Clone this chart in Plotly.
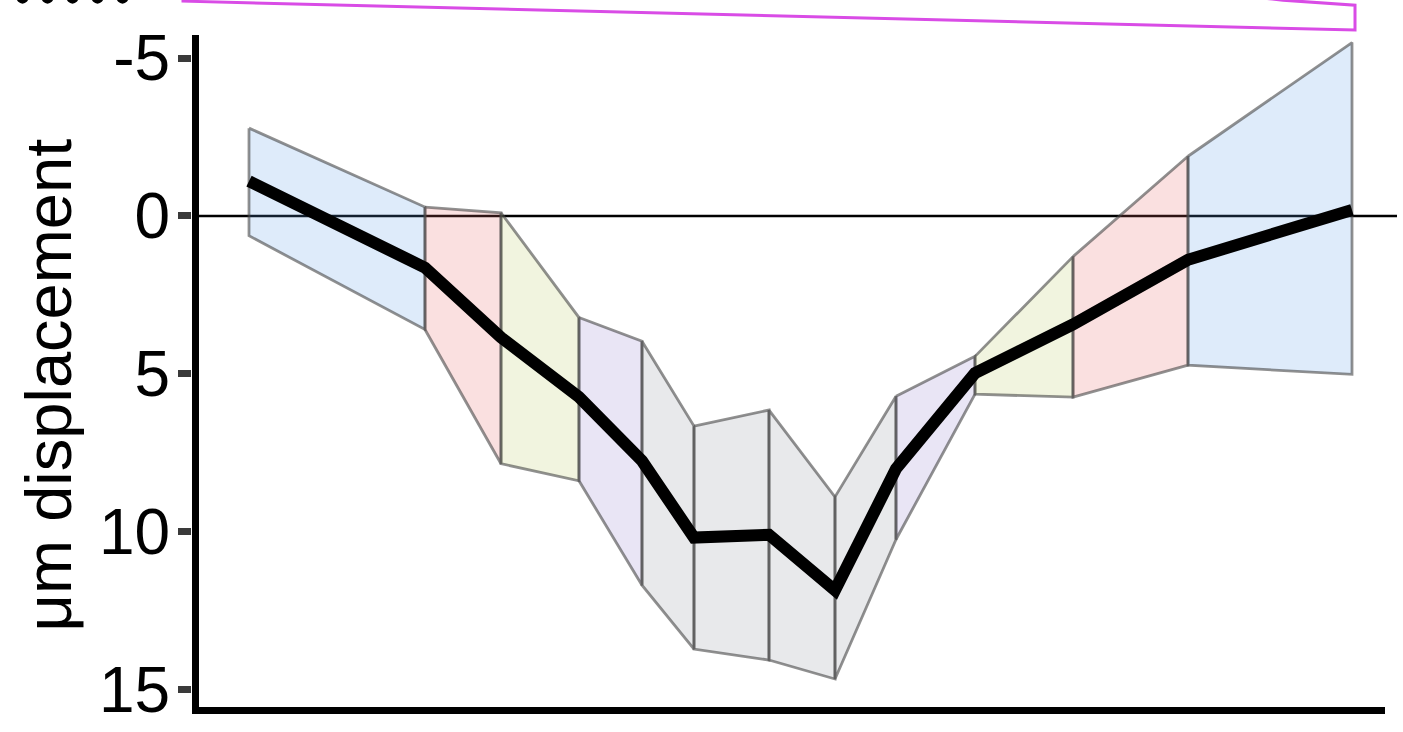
import plotly.graph_objects as go

# ---- data ----
positions = [0.0, 17.6, 25.2, 33.0, 39.3, 44.5, 52.0, 58.6, 64.7, 72.6, 82.4, 93.9, 110.3]
mean_disp = [-1.10, 1.64, 3.85, 5.74, 7.76, 10.19, 10.10, 11.86, 8.01, 4.98, 3.44, 1.39, -0.19]
upper_disp = [-2.78, -0.28, -0.10, 3.22, 3.97, 6.66, 6.15, 8.90, 5.71, 4.45, 1.29, -1.89, -5.49]
lower_disp = [0.63, 3.60, 7.85, 8.39, 11.70, 13.72, 14.07, 14.67, 10.25, 5.65, 5.74, 4.73, 5.02]
segment_colors = [
    "rgba(90,155,230,0.2)",   # blue
    "rgba(230,100,100,0.2)",  # pink
    "rgba(185,200,95,0.2)",   # yellow-green
    "rgba(145,125,205,0.2)",  # lavender
    "rgba(140,145,155,0.2)",  # gray
    "rgba(140,145,155,0.2)",
    "rgba(140,145,155,0.2)",
    "rgba(140,145,155,0.2)",
    "rgba(145,125,205,0.2)",  # lavender
    "rgba(185,200,95,0.2)",   # yellow-green
    "rgba(230,100,100,0.2)",  # pink
    "rgba(90,155,230,0.2)",   # blue
]
y_ticks = [-5, 0, 5, 10, 15]
y_title = "μm displacement"

W, H = 1403, 732
L, R, T, B = 192, 6, 35, 20
x_range = [-5.7, 114.8]
y_range = [15.62, -5.73]

fig = go.Figure()

# zero reference line
fig.add_trace(go.Scatter(x=x_range, y=[0, 0], mode="lines",
                         line=dict(color="black", width=2.5), hoverinfo="skip", showlegend=False))

# shaded segments
for i, col in enumerate(segment_colors):
    xs = [positions[i], positions[i + 1], positions[i + 1], positions[i], positions[i]]
    ys = [upper_disp[i], upper_disp[i + 1], lower_disp[i + 1], lower_disp[i], upper_disp[i]]
    fig.add_trace(go.Scatter(x=xs, y=ys, mode="lines", fill="toself", fillcolor=col,
                             line=dict(color="rgba(70,70,70,0.6)", width=2.8),
                             hoverinfo="skip", showlegend=False))

# mean line
fig.add_trace(go.Scatter(x=positions, y=mean_disp, mode="lines",
                         line=dict(color="black", width=12), showlegend=False))

pw = W - L - R
ph = H - T - B

def px(xp):
    return (xp - L) / pw

def py(yp):
    return (H - B - yp) / ph

shapes = []
# axis lines
shapes.append(dict(type="rect", xref="paper", yref="paper",
                   x0=px(192), x1=px(199), y0=py(35), y1=py(717),
                   fillcolor="black", line=dict(width=0)))
shapes.append(dict(type="rect", xref="paper", yref="paper",
                   x0=px(195), x1=px(1385), y0=py(710), y1=py(717),
                   fillcolor="black", line=dict(width=0)))
# magenta frame at top (partially cropped)
pts = [(183, -40), (183, 1), (1355, 30), (1355, 5), (1283, 0), (900, -40)]
path = "M " + " L ".join(f"{px(a):.5f},{py(b):.5f}" for a, b in pts)
shapes.append(dict(type="path", xref="paper", yref="paper", path=path,
                   line=dict(color="#d94ce6", width=3)))
# cropped dots at top-left
for cx in [22.5, 47.5, 72.5, 97.5, 122.5]:
    shapes.append(dict(type="circle", xref="paper", yref="paper",
                       x0=px(cx - 6), x1=px(cx + 6), y0=py(-9), y1=py(3.5),
                       fillcolor="black", line=dict(width=0)))

fig.update_layout(
    width=W, height=H,
    margin=dict(l=L, r=R, t=T, b=B, pad=0),
    paper_bgcolor="white", plot_bgcolor="white",
    font=dict(family="Liberation Sans, Arial, sans-serif", color="black", size=64),
    xaxis=dict(range=x_range, showgrid=False, zeroline=False, showline=False,
               showticklabels=False, ticks=""),
    yaxis=dict(range=y_range, tickvals=y_ticks, ticktext=[str(v) for v in y_ticks],
               showgrid=False, zeroline=False, showline=False,
               ticks="outside", ticklen=13, tickwidth=7, tickcolor="#3a3a3a",
               ticklabelstandoff=-5,
               tickfont=dict(size=64)),
    shapes=shapes,
    annotations=[dict(text=y_title, xref="paper", yref="paper", x=px(48), y=py(387),
                      xanchor="center", yanchor="middle", textangle=-90,
                      showarrow=False, font=dict(size=65))],
)

fig.write_html("out.html", config={"displayModeBar": False},
               post_script="document.body.style.margin='0';document.body.style.overflow='hidden';")
